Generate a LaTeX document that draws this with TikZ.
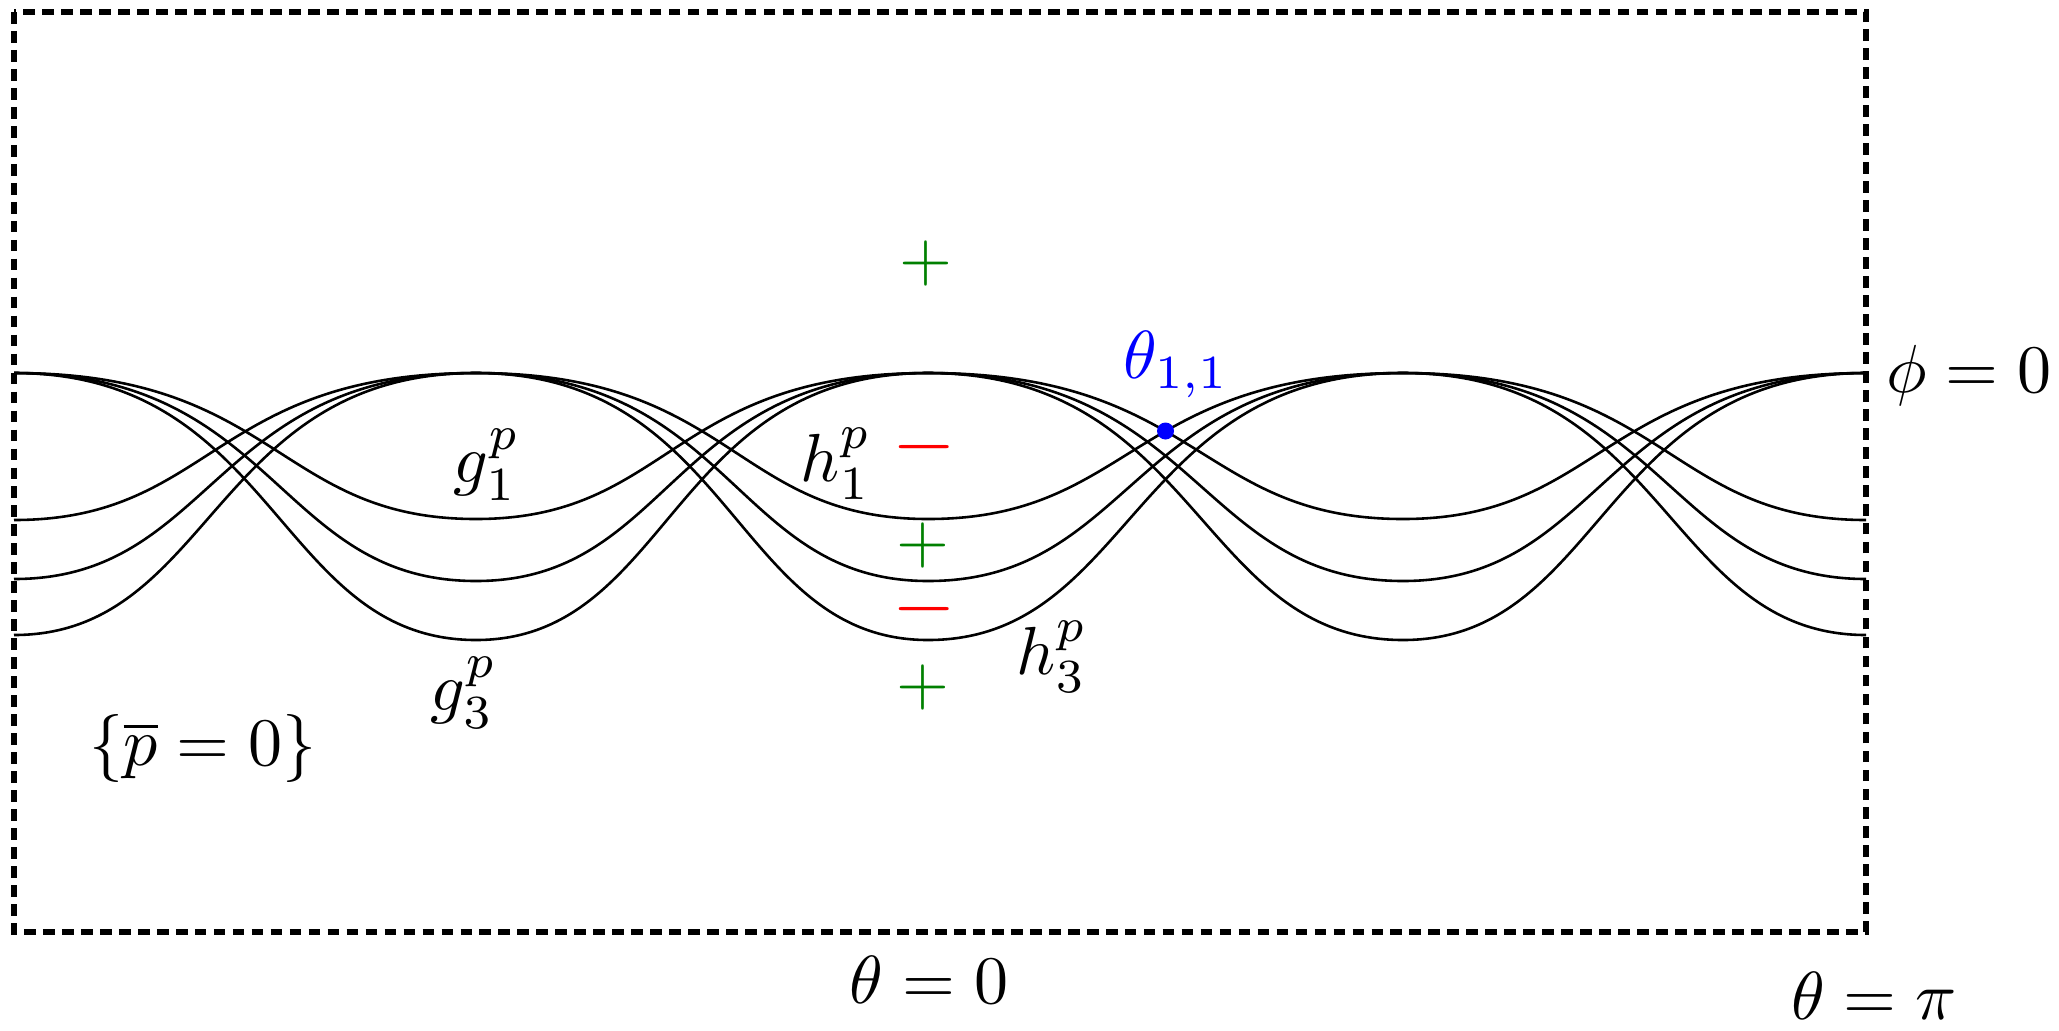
\documentclass[tikz,border=0pt]{standalone}
\usepackage{amsmath}
\begin{document}
\begin{tikzpicture}[x=0.147pt, y=-0.147pt,
  curve/.style={line width=0.38pt},
  frame/.style={line width=0.78pt, dash pattern=on 1.72pt off 1.07pt},
  lbl/.style={inner sep=0pt},
  plussign/.style={lbl, text=green!50!black},
  minussign/.style={lbl, text=red, font=\large}]
\useasboundingbox (0,0) rectangle (2059,1030);
% frame
\draw[frame] (14,12) rectangle (1866,932);
% curves
\foreach \e/\b in {520/519, 579/581, 635/640}{
  \draw[curve] (14,373) .. controls (277.3,373) and (277.3,\b) .. (476,\b)
     .. controls (670.4,\b) and (670.4,373) .. (928,373)
     .. controls (1198.75,373) and (1198.75,\b) .. (1403,\b)
     .. controls (1602.1,\b) and (1602.1,373) .. (1866,373);
  \draw[curve] (14,\e) .. controls (212.7,\e) and (212.7,373) .. (476,373)
     .. controls (733.6,373) and (733.6,\b) .. (928,\b)
     .. controls (1132.25,\b) and (1132.25,373) .. (1403,373)
     .. controls (1666.9,373) and (1666.9,\e) .. (1866,\e);
}
% point
\node[circle, fill=blue, inner sep=0pt, minimum size=2.5pt] (dot) at (1165.5,431) {};
\node[lbl, anchor=base, text=blue] (th11) at (1176,378) {$\theta_{1,1}$};
% labels
\node[lbl] (g1) at (487,465) {$g_1^p$};
\node[lbl] (h1) at (836,464) {$h_1^p$};
\node[lbl] (g3) at (464,693) {$g_3^p$};
\node[lbl] (h3) at (1052,657) {$h_3^p$};
\node[lbl] (pbar) at (203,748) {$\{\overline{p}=0\}$};
\node[lbl, anchor=base] (phi) at (1969,392) {$\phi=0$};
\node[lbl] (t0) at (929,980) {$\theta=0$};
\node[lbl] (tpi) at (1874,996) {$\theta=\pi$};
% signs
\node[plussign] (s1) at (926,263) {$+$};
\node[minussign] (s2) at (924,447) {$-$};
\node[plussign] (s3) at (923,545) {$+$};
\node[minussign] (s4) at (924,609) {$-$};
\node[plussign] (s5) at (923,687) {$+$};
\end{tikzpicture}
\end{document}
